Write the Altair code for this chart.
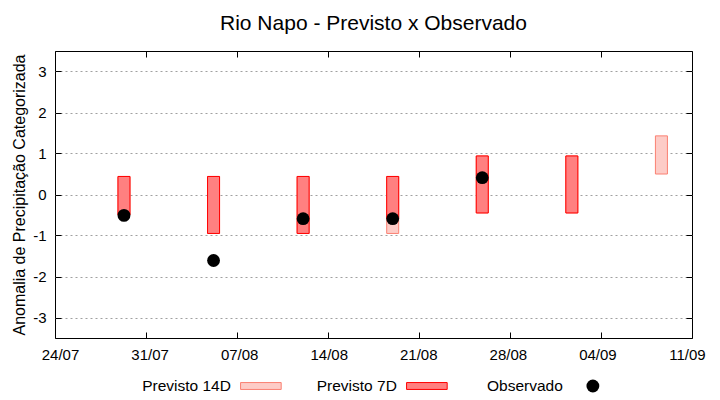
import altair as alt
import pandas as pd

FONT = "Liberation Sans"

# ---- data ----
dates14 = ["2023-07-29", "2023-08-05", "2023-08-12", "2023-08-19", "2023-08-26", "2023-09-02", "2023-09-09"]
p14_top = [0.44, 0.44, 0.44, 0.44, 0.94, 0.94, 1.43]
p14_bot = [-0.50, -0.95, -0.95, -0.95, -0.45, -0.45, 0.50]

dates7 = ["2023-07-29", "2023-08-05", "2023-08-12", "2023-08-19", "2023-08-26", "2023-09-02"]
p7_top = [0.44, 0.44, 0.44, 0.44, 0.94, 0.94]
p7_bot = [-0.50, -0.95, -0.95, -0.59, -0.45, -0.45]

dates_obs = ["2023-07-29", "2023-08-05", "2023-08-12", "2023-08-19", "2023-08-26"]
obs = [-0.51, -1.61, -0.59, -0.59, 0.41]

tick_dates = [(2023, 7, 24), (2023, 7, 31), (2023, 8, 7), (2023, 8, 14), (2023, 8, 21),
              (2023, 8, 28), (2023, 9, 4), (2023, 9, 11)]
y_ticks = [-3, -2, -1, 0, 1, 2, 3]
y_domain = [-3.5, 3.5]
legend_items = ["Previsto 14D", "Previsto 7D", "Observado"]

title = "Rio Napo - Previsto x Observado"
y_title = "Anomalia de Precipitação Categorizada"

# ---- tables ----
df14 = pd.DataFrame({"data": dates14, "sup": p14_top, "inf": p14_bot})
df7 = pd.DataFrame({"data": dates7, "sup": p7_top, "inf": p7_bot})
dfo = pd.DataFrame({"data": dates_obs, "obs": obs})
dfl = pd.DataFrame({"item": legend_items})

xvals = [alt.DateTime(year=y, month=m, date=d, utc=True) for (y, m, d) in tick_dates]
xscale = alt.Scale(type="utc", domain=[xvals[0], xvals[-1]])
yscale = alt.Scale(domain=y_domain)

x_main = alt.X("data:T", scale=xscale,
               axis=alt.Axis(values=xvals, format="%d/%m", labelFont=FONT, labelFontSize=15,
                             labelColor="black", tickSize=0, domain=False, grid=False,
                             labelPadding=9, title=None, labelFlush=False))
y_axis = alt.Axis(values=y_ticks, grid=True, gridColor="#a0a0a0", gridDash=[2, 3],
                  gridWidth=1, tickSize=0, domain=False, labelFont=FONT, labelFontSize=15,
                  labelColor="black", labelPadding=9, labelExpr="'' + datum.value",
                  title=y_title, titleFont=FONT,
                  titleFontSize=16, titleFontWeight="normal", titleColor="black",
                  titlePadding=5)

bars14 = alt.Chart(df14).mark_bar(size=12, fill="#fdccc7", stroke="#fa8072", strokeWidth=1).encode(
    x=x_main,
    y=alt.Y("sup:Q", scale=yscale, axis=y_axis),
    y2="inf:Q",
)
bars7 = alt.Chart(df7).mark_bar(size=12, fill="#ff8080", stroke="#ff0000", strokeWidth=1).encode(
    x=x_main,
    y=alt.Y("sup:Q", scale=yscale, axis=y_axis),
    y2="inf:Q",
)
dots = alt.Chart(dfo).mark_point(shape="circle", filled=True, size=165, color="black", opacity=1).encode(
    x=x_main,
    y=alt.Y("obs:Q", scale=yscale, axis=y_axis),
)

main = alt.layer(bars14, bars7, dots)


def tick_layer(xorient, yorient):
    return alt.Chart(dfo).mark_point(opacity=0).encode(
        x=alt.X("data:T", scale=xscale,
                axis=alt.Axis(orient=xorient, offset=-6, tickSize=6, values=xvals, labels=False,
                              domain=False, grid=False, title=None, tickColor="black")),
        y=alt.Y("obs:Q", scale=yscale,
                axis=alt.Axis(orient=yorient, offset=-6, tickSize=6, values=y_ticks, labels=False,
                              domain=False, grid=False, title=None, tickColor="black")),
    )


plot = alt.layer(main, tick_layer("bottom", "left"), tick_layer("top", "right")).resolve_scale(
    x="independent", y="independent"
).properties(
    width=637, height=287,
    view=alt.ViewBackground(stroke="black", strokeWidth=1),
    title=alt.Title(title, fontSize=21, fontWeight="normal", font=FONT, color="black",
                    anchor="middle", frame="group", offset=17),
)

leg_x = alt.X("item:N", scale=alt.Scale(type="point", domain=legend_items, padding=0.9187, align=0.675),
              axis=None)
leg_text = alt.Chart(dfl).mark_text(align="right", baseline="middle", dx=-30, fontSize=15.5,
                                    font=FONT, color="black").encode(x=leg_x, text="item:N")
leg_14 = alt.Chart(dfl).transform_filter(alt.datum.item == legend_items[0]).mark_point(
    shape="M-1,-0.17H1V0.17H-1Z", size=1650, filled=True, fill="#fdccc7", stroke="#fa8072",
    strokeWidth=1, opacity=1).encode(x=leg_x)
leg_7 = alt.Chart(dfl).transform_filter(alt.datum.item == legend_items[1]).mark_point(
    shape="M-1,-0.17H1V0.17H-1Z", size=1650, filled=True, fill="#ff8080", stroke="#ff0000",
    strokeWidth=1, opacity=1).encode(x=leg_x)
leg_o = alt.Chart(dfl).transform_filter(alt.datum.item == legend_items[2]).mark_point(
    shape="circle", size=165, filled=True, color="black", opacity=1).encode(x=leg_x)

legend = alt.layer(leg_text, leg_14, leg_7, leg_o).properties(
    width=637, height=20, view=alt.ViewBackground(stroke="transparent"))

chart = alt.vconcat(plot, legend, spacing=12).properties(
    padding={"left": 3, "top": 4, "right": 5, "bottom": 0},
    background="white",
).configure(font=FONT)

chart.save("out.html", embed_options={"renderer": "svg", "actions": False})
